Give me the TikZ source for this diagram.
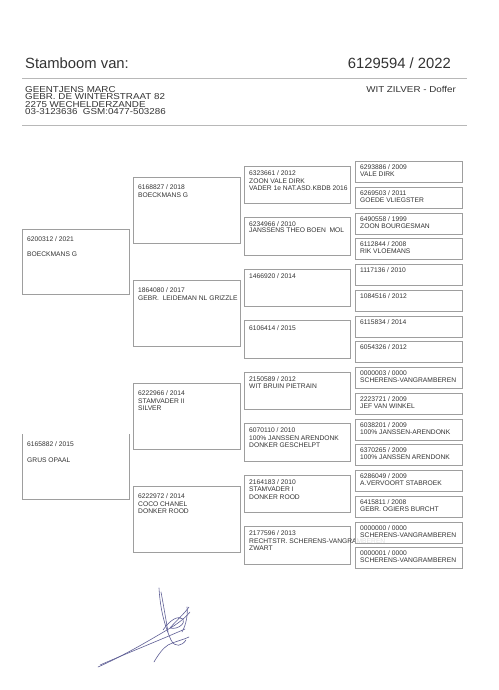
\documentclass[tikz,border=0pt]{standalone}
\usepackage{fontspec}
\setmainfont{Liberation Sans}
\newfontfamily\addrfont[FakeStretch=1.14]{Liberation Sans}
\usetikzlibrary{calc}
\definecolor{boxline}{gray}{0.62}
\definecolor{txt}{gray}{0.2}
\definecolor{rulec}{gray}{0.72}
\definecolor{sig}{RGB}{95,95,150}
\tikzset{
  pbox/.style={draw=boxline, line width=0.7pt, fill=white, anchor=north west, inner sep=0pt},
  pboxtop/.style={draw=boxline, line width=0.7pt, fill=white, fill opacity=0.85, draw opacity=1, anchor=north west, inner sep=0pt},
  btxt/.style={font=\fontsize{6.7}{7}\selectfont, text=txt, anchor=base west, inner sep=0pt},
  htitle/.style={font=\fontsize{14.8}{16}\selectfont, text=txt, anchor=base west, inner sep=0pt},
  haddr/.style={font=\addrfont\fontsize{8.6}{9}\selectfont, text=txt, anchor=base west, inner sep=0pt},
  hrule/.style={draw=rulec, line width=0.8pt},
  sigline/.style={draw=sig, line width=0.6pt, line cap=round, line join=round}
}
% name, x, y, w, h, first baseline offset, line spacing, lines, style
\newcommand\pedbox[9]{%
  \node[#9, minimum width=#4pt, minimum height=#5pt] (#1) at (#2,#3) {};
  \foreach \t [count=\i] in {#8} {
    \pgfmathsetmacro\yy{#6+(\i-1)*#7}
    \node[btxt] (#1t\i) at ($(#1.north west)+(5,\yy)$) {\t};
  }
}
\begin{document}
\begin{tikzpicture}[x=1pt, y=-1pt]
\useasboundingbox (0,0) rectangle (498,690);
\fill[white] (0,0) rectangle (498,690);

% header
\node[htitle] (title) at (25,69) {Stamboom van:};
\node[htitle, anchor=base east] (ringnr) at (451,69) {6129594 / 2022};
\coordinate (r1a) at (22,78.5);
\coordinate (r1b) at (467,78.5);
\draw[hrule] (r1a) -- (r1b);
\node[haddr] (a1) at (25,92.8) {GEENTJENS MARC};
\node[haddr] (a2) at (25,100.0) {GEBR. DE WINTERSTRAAT 82};
\node[haddr] (a3) at (25,107.2) {2275 WECHELDERZANDE};
\node[haddr] (a4) at (25,114.4) {03-3123636\ \ GSM:0477-503286};
\node[haddr, anchor=base east] (kleur) at (456,92.5) {WIT ZILVER - Doffer};
\coordinate (r2a) at (22,125);
\coordinate (r2b) at (467,125);
\draw[hrule] (r2a) -- (r2b);

% generation 1
\pedbox{gA}{22}{229}{107}{65}{12.4}{15.2}{6200312 / 2021,BOECKMANS G}{pbox}
\node[anchor=north west, inner sep=0pt, minimum width=107pt, minimum height=65pt] (gB) at (22,434) {};
\draw[draw=boxline, line width=0.7pt] (gB.north west) -- (gB.south west) -- (gB.south east) -- (gB.north east);
\node[btxt] (gBt1) at ($(gB.north west)+(5,12.4)$) {6165882 / 2015};
\node[btxt] (gBt2) at ($(gB.north west)+(5,28.2)$) {GRUS OPAAL};

% generation 2
\pedbox{g2a}{133}{177.3}{107}{65.7}{12.4}{7.6}{6168827 / 2018,BOECKMANS G}{pbox}
\pedbox{g2b}{133}{280.2}{107}{65.7}{12.4}{7.6}{1864080 / 2017,GEBR.\ \ LEIDEMAN NL GRIZZLE}{pbox}
\pedbox{g2c}{133}{383.1}{107}{65.7}{12.4}{7.6}{6222966 / 2014,STAMVADER II,SILVER}{pbox}
\pedbox{g2d}{133}{486.0}{107}{65.7}{12.4}{7.6}{6222972 / 2014,COCO CHANEL,DONKER ROOD}{pbox}

% generation 3
\pedbox{g3a}{244}{165.7}{106}{37.5}{9.9}{7.4}{6323661 / 2012,ZOON VALE DIRK,VADER 1e NAT.ASD.KBDB 2016}{pbox}
\pedbox{g3b}{244}{217.2}{106}{37.5}{9.3}{6.2}{6234966 / 2010,JANSSENS THEO BOEN\ \ MOL}{pbox}
\pedbox{g3c}{244}{268.6}{106}{37.5}{9.9}{7.4}{1466920 / 2014}{pbox}
\pedbox{g3d}{244}{320.1}{106}{37.5}{9.9}{7.4}{6106414 / 2015}{pbox}
\pedbox{g3e}{244}{371.6}{106}{37.5}{9.9}{7.4}{2150589 / 2012,WIT BRUIN PIETRAIN}{pbox}
\pedbox{g3f}{244}{423.0}{106}{37.5}{9.9}{7.4}{6070110 / 2010,100\% JANSSEN ARENDONK,DONKER GESCHELPT}{pbox}
\pedbox{g3g}{244}{474.5}{106}{37.5}{9.9}{7.4}{2164183 / 2010,STAMVADER I,DONKER ROOD}{pbox}
\pedbox{g3h}{244}{526.0}{106}{37.5}{9.9}{7.4}{2177596 / 2013,RECHTSTR. SCHERENS-VANGRAMBEREN,ZWART}{pbox}

% generation 4
\pedbox{g4a}{355}{161.0}{107}{21}{8.7}{7}{6293886 / 2009,VALE DIRK}{pboxtop}
\pedbox{g4b}{355}{186.75}{107}{21}{8.7}{7}{6269503 / 2011,GOEDE VLIEGSTER}{pboxtop}
\pedbox{g4c}{355}{212.5}{107}{21}{8.7}{7}{6490558 / 1999,ZOON BOURGESMAN}{pboxtop}
\pedbox{g4d}{355}{238.25}{107}{21}{8.7}{7}{6112844 / 2008,RIK VLOEMANS}{pboxtop}
\pedbox{g4e}{355}{264.0}{107}{21}{8.7}{7}{1117136 / 2010}{pboxtop}
\pedbox{g4f}{355}{289.75}{107}{21}{8.7}{7}{1084516 / 2012}{pboxtop}
\pedbox{g4g}{355}{315.5}{107}{21}{8.7}{7}{6115834 / 2014}{pboxtop}
\pedbox{g4h}{355}{341.25}{107}{21}{8.7}{7}{6054326 / 2012}{pboxtop}
\pedbox{g4i}{355}{367.0}{107}{21}{8.7}{7}{0000003 / 0000,SCHERENS-VANGRAMBEREN}{pboxtop}
\pedbox{g4j}{355}{392.75}{107}{21}{8.7}{7}{2223721 / 2009,JEF VAN WINKEL}{pboxtop}
\pedbox{g4k}{355}{418.5}{107}{21}{8.7}{7}{6038201 / 2009,100\% JANSSEN-ARENDONK}{pboxtop}
\pedbox{g4l}{355}{444.25}{107}{21}{8.7}{7}{6370265 / 2009,100\% JANSSEN ARENDONK}{pboxtop}
\pedbox{g4m}{355}{470.0}{107}{21}{8.7}{7}{6286049 / 2009,A.VERVOORT STABROEK}{pboxtop}
\pedbox{g4n}{355}{495.75}{107}{21}{8.7}{7}{6415811 / 2008,GEBR. OGIERS BURCHT}{pboxtop}
\pedbox{g4o}{355}{521.5}{107}{21}{8.7}{7}{0000000 / 0000,SCHERENS-VANGRAMBEREN}{pboxtop}
\pedbox{g4p}{355}{547.25}{107}{21}{8.7}{7}{0000001 / 0000,SCHERENS-VANGRAMBEREN}{pboxtop}

% signature
\draw[sigline] (98,667) .. controls (125,655) and (150,640) .. (172,627) .. controls (180,622) and (186,617) .. (190,612);
\draw[sigline] (100,665) .. controls (130,652) and (160,640) .. (185,629);
\draw[sigline] (159,588) .. controls (160,605) and (163,622) .. (171,640) .. controls (175,648) and (182,646) .. (186,640);
\draw[sigline] (161,592) .. controls (164,608) and (166,620) .. (168,632);
\draw[sigline] (163,630) .. controls (170,620) and (178,615) .. (183,619) .. controls (186,623) and (178,630) .. (170,628) .. controls (175,622) and (184,614) .. (189,607);
\draw[sigline] (154,662) .. controls (158,655) and (163,648) .. (168,645) .. controls (176,641) and (183,640) .. (189,637);
\draw[sigline] (187,607) .. controls (188,615) and (186,625) .. (182,632);
\end{tikzpicture}
\end{document}
